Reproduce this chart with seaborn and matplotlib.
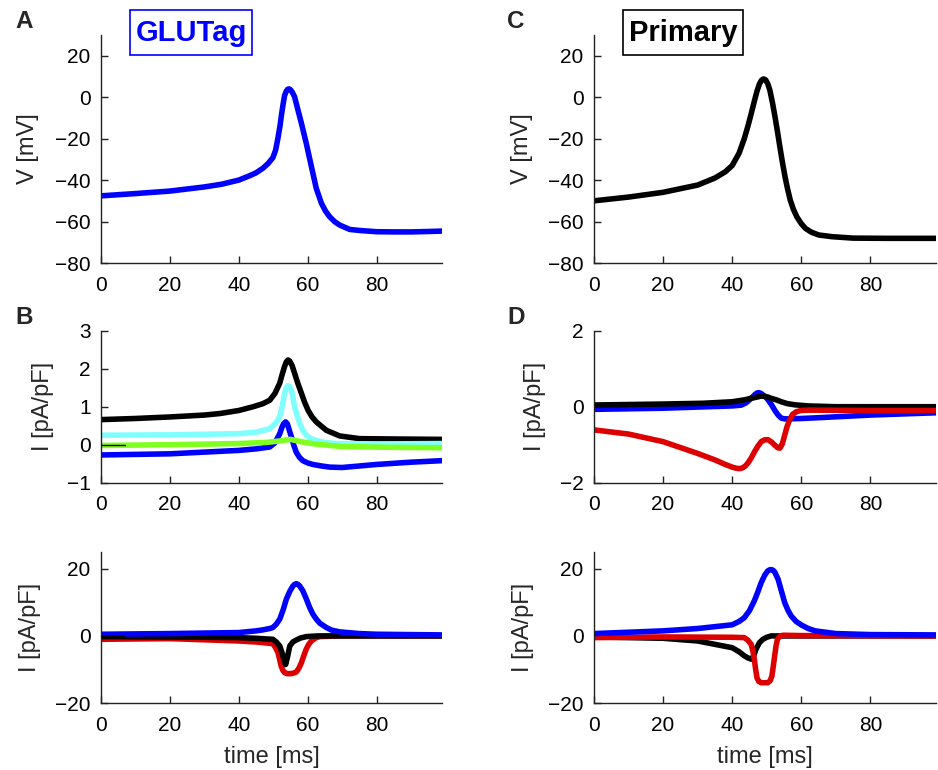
import matplotlib
matplotlib.use("Agg")
import matplotlib.pyplot as plt
from matplotlib.patches import Rectangle
import seaborn as sns

# ---------------- data ----------------
# Panel A: GLUTag membrane potential
tA = [0, 10, 20, 30, 35, 40, 43, 45, 47, 48.5, 49.9, 50.7, 51.4, 52, 52.4, 52.9, 53.3, 53.8,
      54.2, 54.6, 55.0, 55.5, 56.2, 57.2, 58.2, 59.6, 61.1, 62.5, 64, 65.2, 66.4, 67.8, 69.3,
      72.2, 75, 80, 85, 90, 95, 99]
vA = [-47.6, -46.5, -45.3, -43.3, -42, -40, -38, -36.5, -34.3, -32, -29.2, -25.5, -19.5, -13.5,
      -8.5, -3, 0.8, 2.9, 3.8, 4.0, 3.6, 2.5, 0.2, -6.3, -12.7, -22.3, -33.6, -44, -51.2,
      -55, -57.7, -60, -61.7, -63.8, -64.3, -64.9, -65, -65, -64.8, -64.6]

# Panel C: Primary membrane potential
tC = [0, 10, 20, 30, 35, 38, 40, 42, 43.5, 44.5, 45.5, 46.5, 47.2, 47.9, 48.5, 49.1, 49.7,
      50.3, 50.9, 51.7, 52.4, 53.1, 53.8, 54.5, 55.3, 56, 56.8, 57.7, 58.7, 60, 61.2, 63, 65.1,
      68.9, 75, 85, 99]
vC = [-50, -48.2, -45.9, -42.4, -39, -36, -33, -27, -20, -14.3, -8, -1.4, 3, 6.4, 8.2, 8.8,
      8.3, 6.5, 3.4, -3, -9.5, -16.5, -23.9, -31, -38.4, -44, -49.6, -54, -57.7, -61, -63.3,
      -65.2, -66.5, -67.3, -68, -68.1, -68.1]

# Panel B: GLUTag small currents
tB_black = [0, 10, 20, 30, 34.5, 40, 44.2, 47, 49, 50.5, 51.9, 52.6, 53.3, 53.8, 54.3, 54.8,
            55.5, 56.2, 57.2, 58.2, 59.1, 60.1, 61.2, 62.5, 65.4, 69.3, 75, 85, 99]
B_black = [0.66, 0.69, 0.73, 0.78, 0.82, 0.9, 1.0, 1.08, 1.17, 1.35, 1.62, 1.85, 2.06, 2.18,
           2.23, 2.2, 2.08, 1.88, 1.6, 1.35, 1.12, 0.91, 0.74, 0.6, 0.38, 0.23, 0.16, 0.15, 0.14]
tB_cyan = [0, 20, 40, 45, 49, 50.5, 51.4, 52, 52.7, 53.3, 53.8, 54.3, 54.8, 55.3, 55.8, 56.2,
           57, 57.7, 58.6, 59.6, 61, 62.5, 65, 68.3, 80, 99]
B_cyan = [0.25, 0.26, 0.29, 0.33, 0.42, 0.55, 0.65, 0.78, 1.05, 1.35, 1.5, 1.55, 1.53, 1.42,
          1.2, 1.0, 0.75, 0.56, 0.38, 0.25, 0.16, 0.11, 0.06, 0.03, 0.02, 0.03]
tB_blue = [0, 20, 40, 45, 49, 50.5, 51.9, 52.5, 53, 53.6, 54.1, 54.6, 55.3, 56, 56.7, 57.6,
           58.6, 60, 61.5, 64, 66.4, 70, 80, 90, 99]
B_blue = [-0.27, -0.24, -0.15, -0.11, -0.06, 0.05, 0.29, 0.45, 0.55, 0.6, 0.55, 0.4, 0.2,
          -0.02, -0.2, -0.33, -0.42, -0.48, -0.52, -0.56, -0.59, -0.6, -0.52, -0.46, -0.42]
tB_green = [0, 20, 40, 48, 52, 55, 58, 62, 70, 85, 99]
B_green = [-0.02, 0.0, 0.03, 0.06, 0.1, 0.14, 0.08, 0.02, -0.05, -0.07, -0.08]

# Panel D: Primary small currents
tD_black = [0, 20, 31.5, 40, 43.5, 46, 47.5, 48.4, 49.5, 50.5, 51.3, 52.8, 54.2, 56, 58.1,
            62, 70, 99]
D_black = [0.045, 0.07, 0.09, 0.13, 0.18, 0.23, 0.26, 0.28, 0.27, 0.25, 0.22, 0.18, 0.13,
           0.08, 0.05, 0.02, 0.0, 0.0]
tD_blue = [0, 20, 40, 42.6, 44, 45.5, 46.7, 47.2, 47.6, 48.1, 48.5, 49.5, 50.4, 51.4, 52.3,
           53.3, 54.2, 55.2, 56.2, 60, 64.9, 80, 99]
D_blue = [-0.07, -0.04, 0.02, 0.04, 0.1, 0.22, 0.33, 0.36, 0.37, 0.36, 0.34, 0.27, 0.18,
          0.05, -0.09, -0.22, -0.3, -0.32, -0.32, -0.31, -0.29, -0.22, -0.16]
tD_red = [0, 10, 20, 30, 35, 38, 40, 41.2, 42.1, 43, 43.8, 44.5, 45.5, 46.5, 47.5, 48.4,
          49.4, 50.4, 51.4, 52.3, 53.2, 53.8, 54.5, 55.2, 55.9, 56.6, 57.5, 58.6, 60, 62, 80, 99]
D_red = [-0.61, -0.72, -0.92, -1.23, -1.4, -1.52, -1.59, -1.62, -1.63, -1.61, -1.56, -1.49,
         -1.35, -1.18, -1.03, -0.92, -0.87, -0.87, -0.93, -1.01, -1.08, -1.09, -0.98, -0.75,
         -0.52, -0.35, -0.2, -0.13, -0.1, -0.09, -0.1, -0.1]

# Panel E: GLUTag large currents
tE_blue = [0, 20, 40, 45, 47, 49, 49.9, 50.9, 51.9, 52.9, 53.8, 54.8, 55.7, 56.2, 56.7, 57.2,
           57.7, 58.6, 59.6, 60.6, 61.5, 62.5, 63.5, 65.4, 67, 69.3, 75, 80, 99]
E_blue = [0.5, 0.7, 1.0, 1.5, 1.8, 2.2, 2.5, 3.5, 5, 7.8, 10.9, 13.2, 14.8, 15.3, 15.5, 15.3,
          14.8, 13.4, 11, 8.4, 6.5, 5, 3.8, 2.5, 1.7, 1.2, 0.7, 0.5, 0.3]
tE_black = [0, 20, 40, 45, 48, 49.9, 50.9, 51.9, 52.5, 53.0, 53.6, 54.2, 54.8, 55.7, 56.7,
            58, 59.6, 63, 99]
E_black = [-0.2, -0.3, -0.5, -0.7, -0.9, -1.0, -1.8, -3, -4.8, -6.5, -8.5, -6, -3, -1.8,
           -1.2, -0.6, -0.2, 0, 0]
tE_red = [0, 20, 40, 45, 48, 49.9, 50.7, 51.4, 52.3, 52.8, 53.3, 54, 54.8, 55.7, 56.7, 57.5,
          58.2, 58.9, 59.6, 60.3, 61.1, 62.3, 63.5, 70, 99]
E_red = [-1.0, -0.8, -1.5, -1.8, -2.1, -2.3, -3.5, -5, -8.9, -10.2, -10.9, -11.2, -11.2,
         -11.1, -10.7, -9.5, -7.9, -5.8, -3.9, -2.5, -1.5, -0.6, -0.2, 0, 0]

# Panel F: Primary large currents
tF_blue = [0, 20, 30, 40, 42, 43.5, 45, 46.4, 47.4, 48.4, 49.4, 50.3, 50.8, 51.3, 51.8, 52.3,
           53.3, 54.2, 55.2, 56.1, 57.1, 58.5, 60.1, 62, 64, 70, 80, 99]
F_blue = [0.7, 1.5, 2.2, 3.3, 4.3, 5.4, 7.5, 10.4, 13, 15.8, 18, 19.3, 19.6, 19.7, 19.5, 19.0,
          16.8, 13.5, 9.9, 7.7, 5.9, 4.3, 3.2, 2.2, 1.5, 0.7, 0.4, 0.3]
tF_black = [0, 20, 30, 40, 42, 43.5, 44.5, 45.5, 46.2, 46.9, 47.9, 48.9, 50, 51.3, 60, 99]
F_black = [-0.3, -0.7, -1.5, -3.5, -4.7, -5.9, -6.5, -6.9, -6, -3.9, -2, -1.0, -0.4, 0, 0, 0]
tF_red = [0, 20, 40, 43.5, 44.5, 45.5, 46, 46.4, 46.8, 47.2, 47.7, 48.4, 50.3, 51, 51.5, 51.9,
          52.3, 52.7, 53.1, 53.8, 54.7, 60, 99]
F_red = [-0.5, -0.3, -0.4, -0.5, -1.2, -2.5, -4.5, -6.9, -10, -12.5, -13.5, -13.9, -13.9,
         -13.3, -11.9, -9, -5.9, -3, -1.0, -0.1, 0.2, 0.1, 0]

# short thin zero reference segment
t_zero = [0, 7]
zero = [0, 0]

x_ticks = [0, 20, 40, 60, 80]
BLUE, RED, CYAN, GREEN, BLACK = "#0000FF", "#DD0000", "#80FFFF", "#80FF20", "#000000"

# ---------------- figure ----------------
sns.set_theme(style="ticks")
plt.rcParams["font.family"] = ["Liberation Sans", "DejaVu Sans"]
plt.rcParams["axes.unicode_minus"] = True

W, H = 938, 770
fig = plt.figure(figsize=(W / 100, H / 100), dpi=100)

lefts = [101 / W, 594 / W]
widths = [341 / W, 342 / W]
rows = [(1 - 263 / H, 228 / H), (1 - 482.7 / H, 152 / H), (1 - 703.3 / H, 151.6 / H)]

axes = [[fig.add_axes([lefts[c], rows[r][0], widths[c], rows[r][1]]) for c in range(2)]
        for r in range(3)]

LW = 4.0

def draw(ax, t, y, color, lw=LW, z=2):
    sns.lineplot(x=t, y=y, ax=ax, color=color, lw=lw, estimator=None, sort=False,
                 zorder=z, solid_capstyle="round", solid_joinstyle="round")

# A
draw(axes[0][0], tA, vA, BLUE)
# C
draw(axes[0][1], tC, vC, BLACK)
# B
draw(axes[1][0], tB_black, B_black, BLACK)
draw(axes[1][0], tB_cyan, B_cyan, CYAN)
draw(axes[1][0], tB_blue, B_blue, BLUE)
draw(axes[1][0], tB_green, B_green, GREEN)
draw(axes[1][0], t_zero, zero, BLACK, lw=1.0, z=3)
# D
draw(axes[1][1], tD_blue, D_blue, BLUE)
draw(axes[1][1], tD_black, D_black, BLACK)
draw(axes[1][1], tD_red, D_red, RED)
# E
draw(axes[2][0], tE_red, E_red, RED)
draw(axes[2][0], tE_black, E_black, BLACK)
draw(axes[2][0], tE_blue, E_blue, BLUE)
draw(axes[2][0], t_zero, zero, BLACK, lw=1.0, z=3)
# F
draw(axes[2][1], tF_black, F_black, BLACK)
draw(axes[2][1], tF_red, F_red, RED)
draw(axes[2][1], tF_blue, F_blue, BLUE)

ylims = [[(-80, 30), (-80, 30)], [(-1, 3), (-2, 2)], [(-20, 25), (-20, 25)]]
yticks = [[[-80, -60, -40, -20, 0, 20]] * 2, [[-1, 0, 1, 2, 3], [-2, 0, 2]],
          [[-20, 0, 20]] * 2]
ylabels = ["V [mV]", "I [pA/pF]", "I [pA/pF]"]
ylabel_x = [[-0.214, -0.211], [-0.170, -0.172], [-0.208, -0.207]]

for r in range(3):
    for c in range(2):
        ax = axes[r][c]
        ax.set_xlim(0, 99)
        ax.set_xticks(x_ticks)
        ax.set_ylim(*ylims[r][c])
        ax.set_yticks(yticks[r][c])
        ax.set_ylabel(ylabels[r], fontsize=17, va="center")
        ax.yaxis.set_label_coords(ylabel_x[r][c], 0.5)
        if r == 2:
            ax.set_xlabel("time [ms]", fontsize=17, va="center")
            ax.xaxis.set_label_coords(0.5, -0.352)
        else:
            ax.set_xlabel("")
        sns.despine(ax=ax)
        for s in ["left", "bottom"]:
            ax.spines[s].set_linewidth(1.0)
            ax.spines[s].set_color("#222222")
        ax.tick_params(direction="in", length=5, width=1.0, colors="#222222",
                       labelsize=15, labelcolor="black")
        ax.tick_params(axis="x", pad=9)
        ax.tick_params(axis="y", pad=7.5)
        ax.set_facecolor("white")

# panel letters
for txt, (x, y) in zip("ABCD", [(24, 21), (24, 318), (516, 21), (516, 318)]):
    fig.text(x / W, 1 - y / H, txt, fontsize=17.5, fontweight="bold",
             ha="center", va="center")

# titles in boxes (box drawn as a rectangle in figure pixels)
for label, color, (x0, x1), cx in [("GLUTag", BLUE, (130, 252), 191),
                                   ("Primary", BLACK, (622.7, 743.3), 683)]:
    fig.patches.append(Rectangle((x0 / W, 1 - 55 / H), (x1 - x0) / W, 45 / H,
                                 transform=fig.transFigure, fill=False, ec=color, lw=1.2))
    fig.text(cx / W, 1 - 33 / H, label, fontsize=21, fontweight="bold", color=color,
             ha="center", va="center")

fig.savefig("out.png", dpi=100, facecolor="white")
